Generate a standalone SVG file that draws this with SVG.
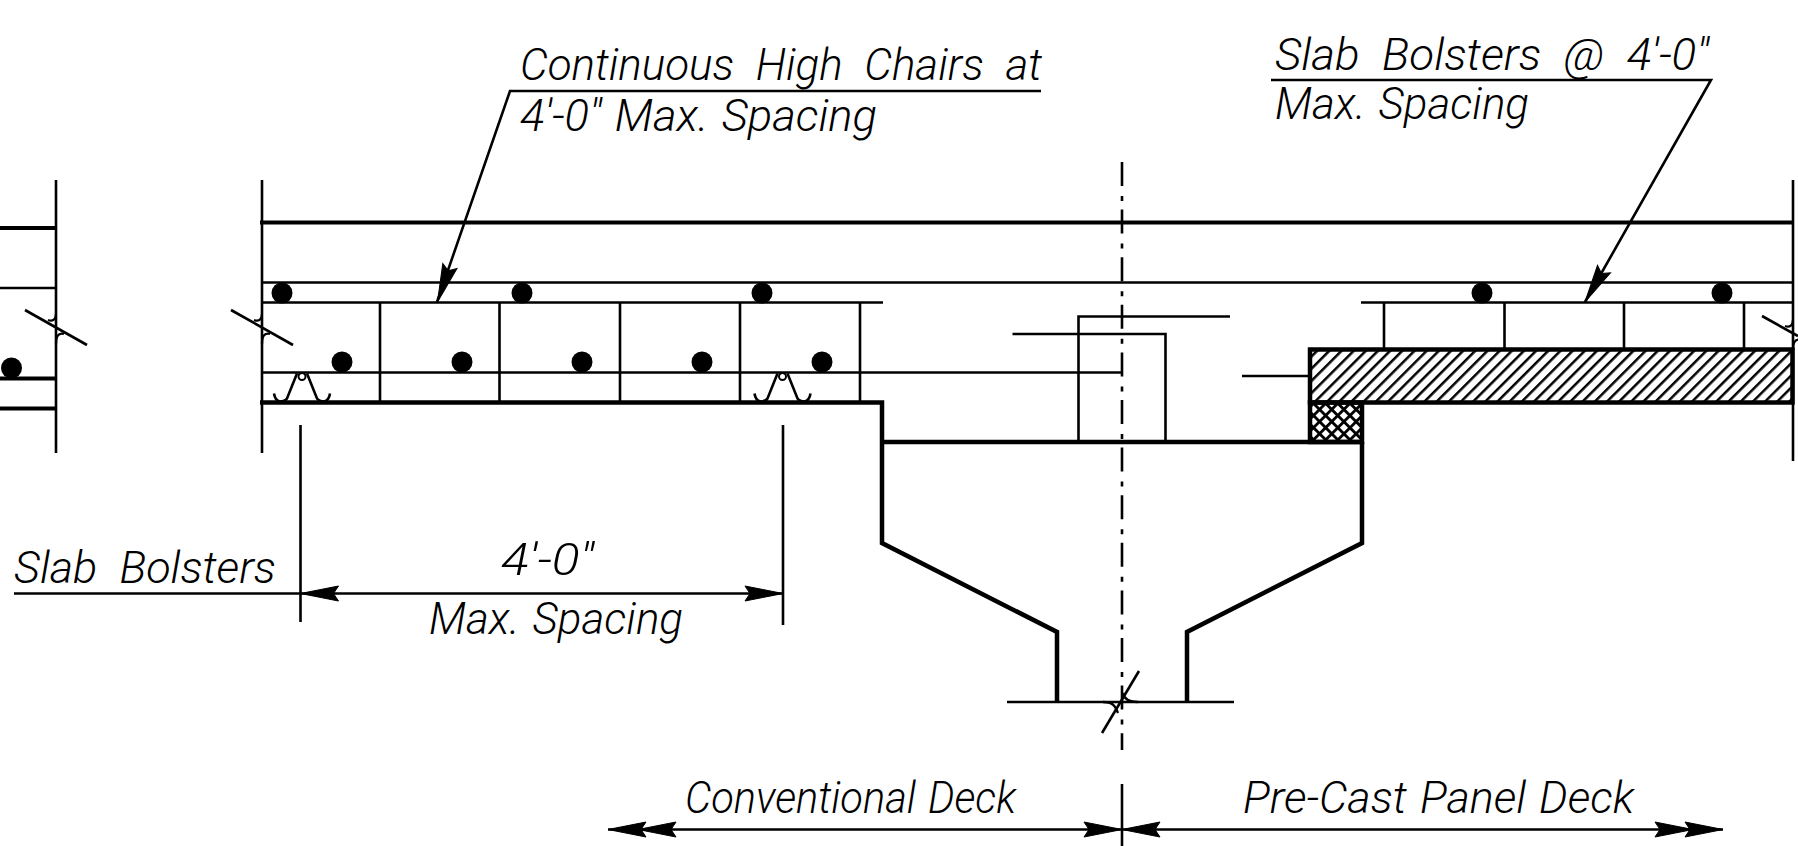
<svg xmlns="http://www.w3.org/2000/svg" width="1798" height="846" viewBox="0 0 1798 846">
<style>
.t{font-family:Roboto,"Liberation Sans",Arial,sans-serif;font-style:italic;font-weight:300;font-size:45px;word-spacing:.25em;fill:#000;stroke:none}
.n{word-spacing:.05em}
.f{stroke:#000;fill:none;stroke-width:2.3}
.m{stroke:#000;fill:none;stroke-width:2.6}
.h{stroke:#000;fill:none;stroke-width:4.5}
.s{stroke:#000;fill:none;stroke-width:4}
</style>
<defs>
<pattern id="hatch" width="8.6" height="8.6" patternUnits="userSpaceOnUse" patternTransform="rotate(45)"><line x1="0" y1="0" x2="0" y2="8.6" stroke="#000" stroke-width="5"/></pattern>
<pattern id="cross" width="8.6" height="8.6" patternUnits="userSpaceOnUse" patternTransform="rotate(45)"><path d="M0 0V8.6M0 0H8.6" stroke="#000" stroke-width="5.6" fill="none"/></pattern>
<path id="ah" d="M0 0L38 -7.5L33 0L38 7.5Z" fill="#000" stroke="#000" stroke-width="1"/>
<circle id="bar" r="10.5" fill="#000"/>
<g id="chair"><path class="m" d="M-5 -3L-15 22Q-17 25 -22 25Q-27 24 -28 17M5 -3L15 22Q17 25 22 25Q27 24 28 17"/><circle cx="0" cy="0" r="3.5" fill="#fff" stroke="#000" stroke-width="2"/></g>
</defs>
<g id="left-stub">
<path class="m" d="M56 180V453"/>
<path class="f" d="M0 288H56"/>
<path class="s" d="M0 228H57M0 378.5H56M0 408.5H57"/>
<path class="m" d="M25 310L87 345"/>
<path class="f" d="M56 314C56 319 53 322 48 320M56 344C56 337 58 332 64 334"/>
<use href="#bar" x="11.5" y="368"/>
</g>
<g id="conventional-deck">
<path class="m" d="M262 180V453"/>
<path class="s" d="M260 222.5H1793"/>
<path class="f" d="M262 282.5H1793"/>
<path class="f" d="M262 302.5H883M262 372.5H1122"/>
<path class="m" d="M380 302.5V402M499.5 302.5V402M620 302.5V402M740 302.5V402M860 302.5V402"/>
<use href="#chair" x="302" y="376.5"/>
<use href="#chair" x="782.5" y="376.5"/>
<g id="deck-bars">
<use href="#bar" x="282" y="293"/><use href="#bar" x="522" y="293"/><use href="#bar" x="762" y="293"/>
<use href="#bar" x="342" y="362"/><use href="#bar" x="462" y="362"/><use href="#bar" x="582" y="362"/><use href="#bar" x="702" y="362"/><use href="#bar" x="822" y="362"/>
</g>
<path class="m" d="M231 310L293 345"/>
<path class="f" d="M262 314C262 319 259 322 254 320M262 344C262 337 264 332 270 334"/>
</g>
<g id="girder">
<path class="h" d="M260 402.5H882V543L1057 632V703M1187 703V632L1362 543V442M882 442H1362"/>
<path class="m" d="M1007 702H1234"/>
<path class="m" d="M1102 733L1139 671"/>
<path class="f" d="M1103 702C1112 702 1115 705 1118 713M1123 693C1124 699 1130 702 1138 702"/>
<path class="m" d="M1078.5 442V316.5H1230M1012.5 334H1165.5V442"/>
</g>
<g id="panel-deck">
<rect x="1310" y="349.5" width="482.5" height="53" fill="url(#hatch)" stroke="#000" stroke-width="4.5"/>
<rect x="1310" y="402.5" width="52" height="39.5" fill="url(#cross)" stroke="#000" stroke-width="4.5"/>
<path class="f" d="M1242 376H1310M1361 302.5H1793"/>
<path class="m" d="M1793 180V461"/>
<path class="m" d="M1384 302.5V349M1504.5 302.5V349M1624 302.5V349M1744 302.5V349"/>
<use href="#bar" x="1482" y="293"/><use href="#bar" x="1722" y="293"/>
<path class="m" d="M1762 316L1798 336"/>
<path class="f" d="M1793 320C1793 325 1790 328 1785 326M1793 350C1793 343 1795 338 1801 340"/>
</g>
<g id="connectors">
<path class="m" stroke-dasharray="24 10 5 8.6" d="M1122 162V750"/>
<path class="m" d="M1122 784V846"/>
<path class="m" d="M300.5 425V622M783 425V625"/>
<path class="m" d="M14 593.5H783"/>
<path class="m" d="M1041 91H510L437 302"/>
<path class="m" d="M1271 80H1711L1585 302"/>
<path class="m" d="M608 829.5H1723"/>
<use href="#ah" transform="translate(300.5 593.5)"/>
<use href="#ah" transform="translate(783 593.5) rotate(180)"/>
<use href="#ah" transform="translate(437.5 302) rotate(-71)"/>
<use href="#ah" transform="translate(1585 302) rotate(-60)"/>
<use href="#ah" transform="translate(608 829.5)"/>
<use href="#ah" transform="translate(638 829.5)"/>
<use href="#ah" transform="translate(1122 829.5) rotate(180)"/>
<use href="#ah" transform="translate(1122 829.5)"/>
<use href="#ah" transform="translate(1723 829.5) rotate(180)"/>
<use href="#ah" transform="translate(1693 829.5) rotate(180)"/>
</g>
<g id="labels">
<text class="t" x="520" y="80" textLength="522" lengthAdjust="spacingAndGlyphs">Continuous High Chairs at</text>
<text class="t n" x="520" y="131" textLength="357" lengthAdjust="spacingAndGlyphs">4'-0" Max. Spacing</text>
<text class="t" x="1275" y="69.5" textLength="434" lengthAdjust="spacingAndGlyphs">Slab Bolsters @ 4'-0"</text>
<text class="t n" x="1275" y="119" textLength="254" lengthAdjust="spacingAndGlyphs">Max. Spacing</text>
<text class="t" x="14" y="583" textLength="262" lengthAdjust="spacingAndGlyphs">Slab Bolsters</text>
<text class="t" x="501" y="575" textLength="93" lengthAdjust="spacingAndGlyphs">4'-0"</text>
<text class="t n" x="429" y="634" textLength="254" lengthAdjust="spacingAndGlyphs">Max. Spacing</text>
<text class="t n" x="685" y="813" textLength="331" lengthAdjust="spacingAndGlyphs">Conventional Deck</text>
<text class="t n" x="1243" y="813" textLength="391" lengthAdjust="spacingAndGlyphs">Pre-Cast Panel Deck</text>
</g>
</svg>
